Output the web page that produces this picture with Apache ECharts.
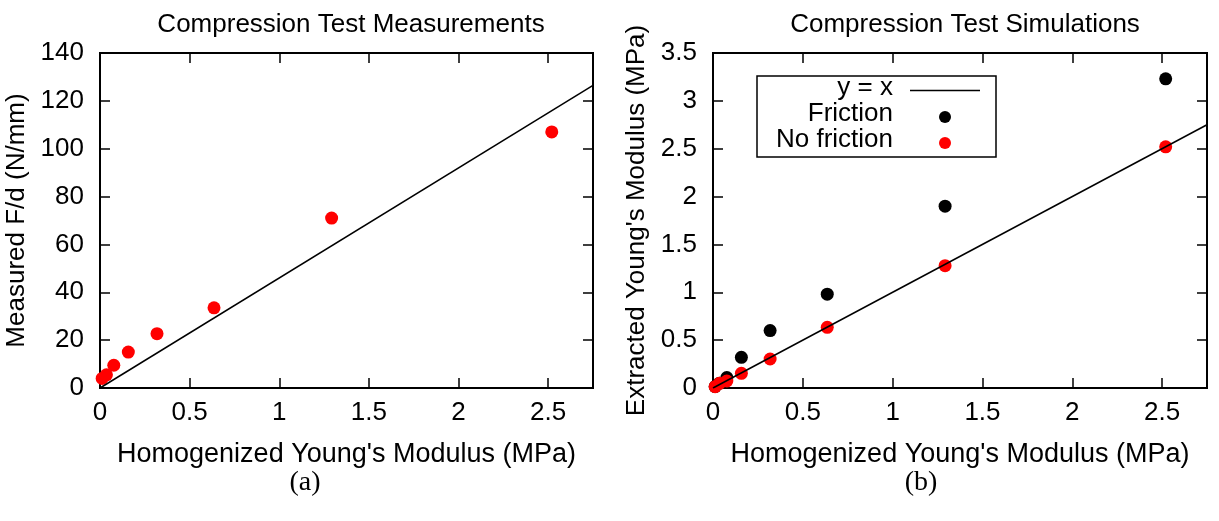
<!DOCTYPE html>
<html>
<head>
<meta charset="utf-8">
<title>Compression Test</title>
<script src="https://cdn.jsdelivr.net/npm/echarts@6/dist/echarts.min.js"></script>
<style>
  html, body { margin: 0; padding: 0; background: #fff; }
  #panelA { position: absolute; left: 0; top: 0; width: 610px; height: 521px; }
  #panelB { position: absolute; left: 610px; top: 0; width: 609px; height: 521px; }
</style>
</head>
<body>
<div id="panelA"></div>
<div id="panelB"></div>
<script>
// homogenized Young's modulus (MPa), shared by both panels
var modulus = [0.012, 0.036, 0.077, 0.158, 0.318, 0.636, 1.292, 2.52];
// (a) measured F/d (N/mm)
var measuredFd = [4, 5.5, 9.5, 15, 22.7, 33.5, 71, 107];
var fitLine = [[0, 0], [2.75, 126.5]];
// (b) extracted modulus (MPa)
var friction = [0.015, 0.05, 0.11, 0.32, 0.60, 0.98, 1.90, 3.23];
var noFriction = [0.014, 0.049, 0.073, 0.153, 0.303, 0.634, 1.278, 2.52];
var identityLine = [[0, 0], [2.75, 2.75]];

var FONT = 'Liberation Sans, Arial, sans-serif';
var SERIF = 'Liberation Serif, DejaVu Serif, serif';
var FS = 26;
var XNAME = "Homogenized Young's Modulus (MPa)";

function pairs(xs, ys) {
  return xs.map(function (x, i) { return [x, ys[i]]; });
}

// one side of the framed box; labels only on bottom / left
function axis(pos, max, interval, name, gap) {
  var labelled = (pos === 'bottom' || pos === 'left');
  var a = {
    type: 'value', gridIndex: 0, position: pos, min: 0, max: max, interval: interval,
    axisLine: { show: true, onZero: false, lineStyle: { color: '#000', width: 2 } },
    axisTick: { show: true, inside: true, length: 10, lineStyle: { color: '#000', width: 1.5 } },
    splitLine: { show: false },
    axisLabel: { show: false }
  };
  if (labelled) {
    a.axisLabel = {
      show: true, margin: pos === 'left' ? 16 : 12, fontFamily: FONT, fontSize: FS, color: '#000',
      // the frame ends at 2.75, which carries no label in the figure
      formatter: function (v) { return (v > max - interval / 2 && v !== max) || (pos === 'bottom' && v === max) ? '' : String(v); }
    };
  }
  if (name) {
    a.name = name;
    a.nameLocation = 'middle';
    a.nameGap = gap;
    a.nameTextStyle = { fontFamily: FONT, fontSize: pos === 'bottom' ? 27 : FS, color: '#000' };
  }
  return a;
}

function titles(main, cx, caption, capX) {
  return [
    { text: main, left: cx, top: 7, textAlign: 'center',
      textStyle: { fontFamily: FONT, fontSize: FS, fontWeight: 'normal', color: '#000' } },
    { text: caption, left: capX, top: 464, textAlign: 'center',
      textStyle: { fontFamily: SERIF, fontSize: 28, fontWeight: 'normal', color: '#000' } }
  ];
}

function grid(left, width) {
  return { left: left, top: 53, width: width, height: 335, outerBoundsMode: 'none',
    show: true, borderColor: '#000', borderWidth: 2, backgroundColor: 'transparent' };
}

// (a) measurements
var chartA = echarts.init(document.getElementById('panelA'));
chartA.setOption({
  backgroundColor: '#fff',
  animation: false,
  title: titles('Compression Test Measurements', 346, '(a)', 300),
  grid: grid(100, 493),
  xAxis: [axis('bottom', 2.75, 0.5, XNAME, 53), axis('top', 2.75, 0.5)],
  yAxis: [axis('left', 140, 20, 'Measured F/d (N/mm)', 62), axis('right', 140, 20)],
  series: [
    { type: 'line', xAxisIndex: 0, yAxisIndex: 0, data: fitLine, showSymbol: false,
      lineStyle: { color: '#000', width: 1.5 } },
    { type: 'scatter', xAxisIndex: 0, yAxisIndex: 0, data: pairs(modulus, measuredFd),
      symbolSize: 13, itemStyle: { color: '#ff0000', opacity: 1 } }
  ]
});

// (b) simulations
var chartB = echarts.init(document.getElementById('panelB'));
chartB.setOption({
  backgroundColor: '#fff',
  animation: false,
  title: titles('Compression Test Simulations', 350, '(b)', 306),
  grid: grid(103, 494),
  xAxis: [axis('bottom', 2.75, 0.5, XNAME, 53), axis('top', 2.75, 0.5)],
  yAxis: [axis('left', 3.5, 0.5, "Extracted Young's Modulus (MPa)", 62), axis('right', 3.5, 0.5)],
  series: [
    { type: 'line', name: 'y = x', xAxisIndex: 0, yAxisIndex: 0, data: identityLine, showSymbol: false,
      lineStyle: { color: '#000', width: 1.5 } },
    { type: 'scatter', name: 'Friction', xAxisIndex: 0, yAxisIndex: 0, data: pairs(modulus, friction),
      symbolSize: 13, itemStyle: { color: '#000', opacity: 1 } },
    { type: 'scatter', name: 'No friction', xAxisIndex: 0, yAxisIndex: 0, data: pairs(modulus, noFriction),
      symbolSize: 13, itemStyle: { color: '#ff0000', opacity: 1 } }
  ],
  // key box: text on the left, marks on the right, as in the figure
  graphic: [
    { type: 'rect', shape: { x: 147, y: 76, width: 239, height: 81 },
      style: { fill: '#fff', stroke: '#000', lineWidth: 1.5 }, z: 10 },
    { type: 'text', x: 283, y: 88, z: 11,
      style: { text: 'y = x', fontFamily: FONT, fontSize: FS, fill: '#000', align: 'right', verticalAlign: 'middle' } },
    { type: 'text', x: 283, y: 114, z: 11,
      style: { text: 'Friction', fontFamily: FONT, fontSize: FS, fill: '#000', align: 'right', verticalAlign: 'middle' } },
    { type: 'text', x: 283, y: 140, z: 11,
      style: { text: 'No friction', fontFamily: FONT, fontSize: FS, fill: '#000', align: 'right', verticalAlign: 'middle' } },
    { type: 'line', shape: { x1: 300, y1: 90.5, x2: 370, y2: 90.5 }, z: 11,
      style: { stroke: '#000', lineWidth: 1.5 } },
    { type: 'circle', shape: { cx: 335, cy: 117, r: 6 }, z: 11, style: { fill: '#000' } },
    { type: 'circle', shape: { cx: 335, cy: 143, r: 6 }, z: 11, style: { fill: '#ff0000' } }
  ]
});
</script>
</body>
</html>
